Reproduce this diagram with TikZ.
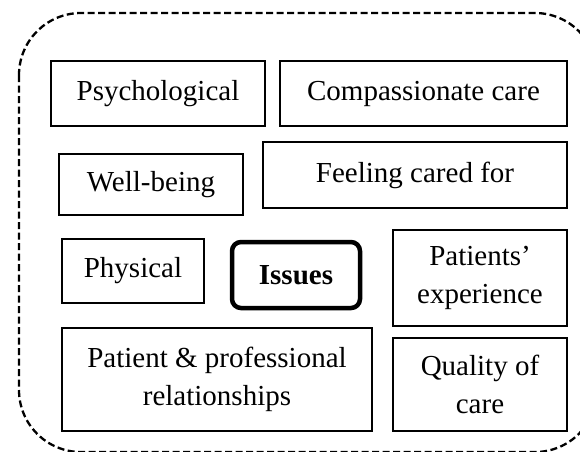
\documentclass[tikz,border=0pt]{standalone}
\usepackage{fontspec}
\setmainfont{Liberation Serif}
\begin{document}
\begin{tikzpicture}[x=1pt,y=-1pt,
  box/.style={draw, line width=2.3pt, inner sep=0pt, align=center,
    font=\fontsize{29}{38}\selectfont},
  keybox/.style={box, line width=4.5pt, rounded corners=9pt, font=\fontsize{29}{38}\selectfont\bfseries},
  frame/.style={draw, line width=2.3pt, dash pattern=on 7pt off 3.5pt, rounded corners=62pt}]
\clip (0,0) rectangle (580,451);
\draw[frame] (19,13) rectangle (597,452);
\node[box, minimum width=214pt, minimum height=65pt] (psy) at (158,93.5) {Psychological};
\node[box, minimum width=287pt, minimum height=65pt] (comp) at (423.5,93.5) {Compassionate care};
\node[box, minimum width=184pt, minimum height=61pt] (well) at (151,184.5) {Well-being};
\node[box, minimum width=304pt, minimum height=66pt] (feel) at (415,175) {Feeling cared for};
\node[box, minimum width=142pt, minimum height=64pt] (phys) at (133,271) {Physical};
\node[keybox, minimum width=128pt, minimum height=66pt] (issues) at (296,275) {Issues};
\node[box, minimum width=174pt, minimum height=96pt] (pexp) at (480,278) {Patients'\\experience};
\node[box, minimum width=310pt, minimum height=103pt] (pat) at (217,379.5) {Patient \& professional\\relationships};
\node[box, minimum width=174pt, minimum height=93pt] (qual) at (480,384.5) {Quality of\\care};
\end{tikzpicture}
\end{document}
